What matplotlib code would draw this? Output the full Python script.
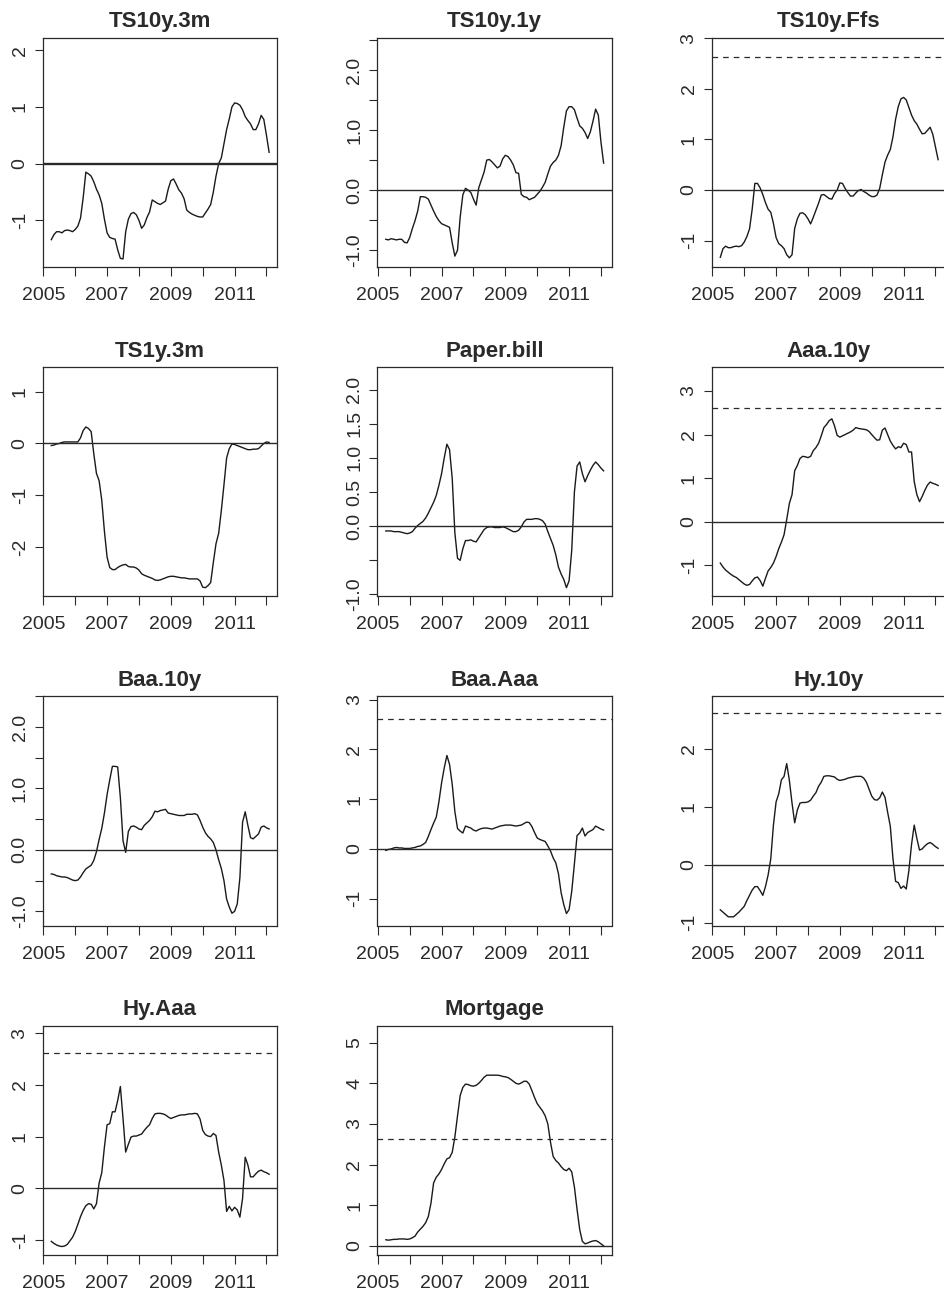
import numpy as np
import matplotlib
matplotlib.use("Agg")
import matplotlib.pyplot as plt

plt.rcParams['font.family'] = ['Liberation Sans', 'DejaVu Sans']
plt.rcParams['axes.unicode_minus'] = False

# ---------------- data ----------------
n_months = 83
start_year = 2005.25
time = start_year + np.arange(n_months) / 12.0

names = ["TS10y.3m", "TS10y.1y", "TS10y.Ffs", "TS1y.3m", "Paper.bill", "Aaa.10y",
         "Baa.10y", "Baa.Aaa", "Hy.10y", "Hy.Aaa", "Mortgage"]

ts10y_3m = [-1.34, -1.25, -1.2, -1.2, -1.22, -1.18, -1.17, -1.18, -1.2, -1.16,
            -1.1, -0.96, -0.6, -0.15, -0.18, -0.22, -0.32, -0.45, -0.55, -0.7,
            -0.98, -1.22, -1.3, -1.32, -1.33, -1.52, -1.67, -1.68, -1.2, -0.98,
            -0.88, -0.86, -0.9, -1.0, -1.14, -1.08, -0.95, -0.85, -0.64, -0.67,
            -0.7, -0.72, -0.69, -0.66, -0.45, -0.3, -0.27, -0.36, -0.46, -0.52,
            -0.62, -0.82, -0.86, -0.89, -0.91, -0.93, -0.94, -0.94, -0.87, -0.8,
            -0.72, -0.5, -0.22, 0.0, 0.1, 0.35, 0.6, 0.79, 1.0, 1.07,
            1.06, 1.03, 0.95, 0.83, 0.76, 0.7, 0.6, 0.6, 0.7, 0.85,
            0.78, 0.5, 0.2]

ts10y_1y = [-0.82, -0.83, -0.81, -0.82, -0.83, -0.82, -0.82, -0.87, -0.88, -0.79,
            -0.64, -0.51, -0.35, -0.11, -0.11, -0.12, -0.15, -0.25, -0.35, -0.44,
            -0.51, -0.56, -0.58, -0.6, -0.62, -0.88, -1.1, -1.0, -0.45, -0.08,
            0.03, 0.0, -0.04, -0.15, -0.25, 0.04, 0.17, 0.3, 0.5, 0.51,
            0.47, 0.42, 0.37, 0.4, 0.52, 0.58, 0.56, 0.5, 0.42, 0.29,
            0.28, -0.07, -0.11, -0.12, -0.16, -0.14, -0.12, -0.07, -0.02, 0.05,
            0.13, 0.27, 0.4, 0.46, 0.5, 0.58, 0.74, 1.05, 1.32, 1.39,
            1.39, 1.34, 1.2, 1.07, 1.03, 0.96, 0.86, 0.97, 1.15, 1.35,
            1.25, 0.8, 0.45]

ts10y_ffs = [-1.33, -1.16, -1.11, -1.14, -1.14, -1.12, -1.11, -1.12, -1.1, -1.03,
             -0.92, -0.77, -0.38, 0.13, 0.13, 0.04, -0.09, -0.25, -0.38, -0.44,
             -0.66, -0.94, -1.06, -1.1, -1.16, -1.28, -1.34, -1.28, -0.76, -0.57,
             -0.46, -0.45, -0.49, -0.57, -0.67, -0.54, -0.4, -0.26, -0.1, -0.09,
             -0.13, -0.17, -0.18, -0.07, 0.0, 0.14, 0.13, 0.03, -0.05, -0.12,
             -0.12, -0.06, -0.01, 0.01, -0.03, -0.06, -0.1, -0.13, -0.13, -0.1,
             0.03, 0.3, 0.55, 0.69, 0.8, 1.05, 1.4, 1.65, 1.8, 1.83,
             1.78, 1.63, 1.48, 1.37, 1.3, 1.2, 1.11, 1.12, 1.18, 1.24,
             1.1, 0.85, 0.6]

ts1y_3m = [-0.04, -0.03, -0.01, 0.0, 0.02, 0.03, 0.03, 0.03, 0.03, 0.03,
           0.03, 0.11, 0.25, 0.32, 0.29, 0.23, -0.2, -0.58, -0.72, -1.1,
           -1.7, -2.2, -2.4, -2.44, -2.44, -2.4, -2.37, -2.35, -2.34, -2.38,
           -2.39, -2.39, -2.41, -2.45, -2.52, -2.55, -2.57, -2.59, -2.61, -2.64,
           -2.65, -2.64, -2.62, -2.6, -2.58, -2.57, -2.57, -2.58, -2.59, -2.6,
           -2.6, -2.61, -2.62, -2.62, -2.62, -2.62, -2.66, -2.78, -2.79, -2.75,
           -2.69, -2.3, -1.94, -1.74, -1.3, -0.8, -0.28, -0.1, -0.01, -0.02,
           -0.04, -0.06, -0.08, -0.1, -0.12, -0.12, -0.11, -0.11, -0.1, -0.05,
           0.0, 0.03, 0.02]

paper_bill = [-0.07, -0.07, -0.07, -0.08, -0.08, -0.08, -0.09, -0.1, -0.11, -0.1,
              -0.08, -0.03, 0.01, 0.04, 0.07, 0.12, 0.19, 0.27, 0.35, 0.45,
              0.6, 0.77, 1.0, 1.2, 1.12, 0.7, -0.1, -0.47, -0.5, -0.33,
              -0.21, -0.21, -0.2, -0.22, -0.23, -0.17, -0.11, -0.05, -0.02, -0.01,
              -0.01, -0.02, -0.02, -0.02, -0.01, -0.02, -0.04, -0.06, -0.08, -0.08,
              -0.06, -0.01, 0.06, 0.1, 0.1, 0.1, 0.11, 0.11, 0.1, 0.08,
              0.03, -0.08, -0.18, -0.28, -0.42, -0.6, -0.7, -0.78, -0.9, -0.8,
              -0.35, 0.5, 0.88, 0.94, 0.77, 0.65, 0.74, 0.82, 0.89, 0.94,
              0.9, 0.85, 0.81]

aaa_10y = [-0.95, -1.04, -1.11, -1.16, -1.21, -1.25, -1.28, -1.33, -1.38, -1.43,
           -1.46, -1.44, -1.36, -1.29, -1.27, -1.35, -1.48, -1.3, -1.13, -1.05,
           -0.95, -0.8, -0.62, -0.47, -0.3, 0.05, 0.42, 0.62, 1.17, 1.29,
           1.45, 1.5, 1.49, 1.47, 1.5, 1.63, 1.7, 1.8, 1.97, 2.16,
           2.23, 2.32, 2.36, 2.2, 1.98, 1.94, 1.97, 2.0, 2.03, 2.06,
           2.1, 2.16, 2.14, 2.13, 2.12, 2.11, 2.07, 2.0, 1.93, 1.87,
           1.88, 2.1, 2.15, 2.0, 1.85, 1.75, 1.67, 1.72, 1.7, 1.8,
           1.77, 1.6, 1.6, 0.92, 0.62, 0.46, 0.58, 0.72, 0.84, 0.91,
           0.88, 0.86, 0.83]

baa_10y = [-0.39, -0.4, -0.42, -0.43, -0.44, -0.44, -0.45, -0.47, -0.49, -0.5,
           -0.49, -0.44, -0.37, -0.31, -0.28, -0.25, -0.17, -0.03, 0.17, 0.35,
           0.6, 0.9, 1.14, 1.36, 1.36, 1.35, 0.85, 0.15, -0.04, 0.3,
           0.38, 0.39, 0.37, 0.34, 0.33, 0.4, 0.44, 0.48, 0.54, 0.63,
           0.62, 0.64, 0.65, 0.66, 0.6, 0.59, 0.58, 0.57, 0.56, 0.56,
           0.56, 0.58, 0.58, 0.58, 0.59, 0.57, 0.48, 0.37, 0.28, 0.22,
           0.18, 0.12, 0.0, -0.16, -0.3, -0.5, -0.8, -0.93, -1.03, -1.0,
           -0.88, -0.45, 0.45, 0.62, 0.4, 0.2, 0.18, 0.22, 0.26, 0.37,
           0.39, 0.36, 0.34]

baa_aaa = [-0.03, -0.01, 0.0, 0.02, 0.03, 0.02, 0.02, 0.01, 0.01, 0.01,
           0.02, 0.03, 0.05, 0.06, 0.09, 0.13, 0.25, 0.39, 0.52, 0.64,
           0.95, 1.33, 1.63, 1.88, 1.7, 1.3, 0.75, 0.41, 0.36, 0.32,
           0.46, 0.44, 0.42, 0.38, 0.36, 0.39, 0.41, 0.42, 0.42, 0.41,
           0.4, 0.42, 0.44, 0.46, 0.47, 0.48, 0.48, 0.48, 0.47, 0.46,
           0.47, 0.48, 0.51, 0.54, 0.53, 0.45, 0.33, 0.22, 0.19, 0.17,
           0.15, 0.06, -0.04, -0.18, -0.28, -0.5, -0.88, -1.12, -1.3, -1.22,
           -0.85, -0.3, 0.27, 0.32, 0.42, 0.26, 0.33, 0.36, 0.39, 0.46,
           0.43, 0.4, 0.38]

hy_10y = [-0.78, -0.82, -0.86, -0.9, -0.9, -0.9, -0.86, -0.82, -0.77, -0.72,
          -0.62, -0.53, -0.44, -0.38, -0.38, -0.45, -0.53, -0.38, -0.18, 0.1,
          0.68, 1.08, 1.22, 1.46, 1.52, 1.74, 1.45, 1.06, 0.72, 0.94,
          1.06, 1.07, 1.07, 1.08, 1.11, 1.18, 1.24, 1.35, 1.42, 1.52,
          1.53, 1.53, 1.52, 1.51, 1.47, 1.45, 1.46, 1.47, 1.49, 1.5,
          1.51, 1.52, 1.52, 1.52, 1.49, 1.42, 1.3, 1.18, 1.12, 1.11,
          1.15, 1.25, 1.16, 0.9, 0.66, 0.1, -0.29, -0.31, -0.41, -0.37,
          -0.42, -0.1, 0.35, 0.68, 0.45, 0.25, 0.27, 0.32, 0.36, 0.38,
          0.35, 0.31, 0.28]

hy_aaa = [-1.03, -1.07, -1.1, -1.12, -1.13, -1.12, -1.09, -1.02, -0.95, -0.84,
          -0.7, -0.55, -0.43, -0.34, -0.3, -0.31, -0.4, -0.3, 0.1, 0.3,
          0.8, 1.23, 1.25, 1.48, 1.48, 1.7, 1.97, 1.35, 0.7, 0.85,
          0.99, 1.01, 1.01, 1.03, 1.05, 1.12, 1.18, 1.23, 1.35, 1.44,
          1.45, 1.45, 1.44, 1.42, 1.38, 1.35, 1.37, 1.39, 1.41, 1.42,
          1.42, 1.43, 1.44, 1.44, 1.45, 1.44, 1.34, 1.12, 1.04, 1.01,
          1.0, 1.06, 1.02, 0.7, 0.45, 0.15, -0.45, -0.35, -0.44, -0.37,
          -0.42, -0.56, -0.2, 0.6, 0.45, 0.22, 0.22, 0.28, 0.33, 0.35,
          0.32, 0.3, 0.27]

mortgage = [0.15, 0.14, 0.15, 0.16, 0.16, 0.17, 0.17, 0.17, 0.16, 0.17,
            0.2, 0.24, 0.34, 0.41, 0.48, 0.57, 0.72, 1.05, 1.55, 1.69,
            1.77, 1.88, 2.02, 2.14, 2.17, 2.3, 2.68, 3.2, 3.7, 3.9,
            3.98, 3.97, 3.94, 3.93, 3.95, 4.0, 4.07, 4.15, 4.2, 4.2,
            4.2, 4.2, 4.2, 4.19, 4.17, 4.16, 4.14, 4.1, 4.05, 4.0,
            3.98, 4.01, 4.05, 4.05, 3.98, 3.82, 3.65, 3.5, 3.41, 3.32,
            3.2, 3.0, 2.55, 2.2, 2.1, 2.04, 1.95, 1.88, 1.85, 1.91,
            1.82, 1.45, 0.9, 0.4, 0.11, 0.05, 0.07, 0.1, 0.12, 0.13,
            0.1, 0.05, 0.0]

series = [ts10y_3m, ts10y_1y, ts10y_ffs, ts1y_3m, paper_bill, aaa_10y,
          baa_10y, baa_aaa, hy_10y, hy_aaa, mortgage]

threshold = 2.62
x_ticks = [2005, 2006, 2007, 2008, 2009, 2010, 2011, 2012]
x_labels = ["2005", "", "2007", "", "2009", "", "2011", ""]

half = [-1.0, -0.5, 0.0, 0.5, 1.0, 1.5, 2.0, 2.5]
half_lab = ["-1.0", "", "0.0", "", "1.0", "", "2.0", ""]
y_ticks = [[-1, 0, 1, 2], half, [-1, 0, 1, 2, 3], [-2, -1, 0, 1],
           [-1.0, -0.5, 0.0, 0.5, 1.0, 1.5, 2.0], [-1, 0, 1, 2, 3],
           half, [-1, 0, 1, 2, 3], [-1, 0, 1, 2], [-1, 0, 1, 2, 3],
           [0, 1, 2, 3, 4, 5]]
y_labels = [["-1", "0", "1", "2"], half_lab, ["-1", "0", "1", "2", "3"],
            ["-2", "-1", "0", "1"],
            ["-1.0", "", "0.0", "0.5", "1.0", "1.5", "2.0"],
            ["-1", "0", "1", "2", "3"], half_lab, ["-1", "0", "1", "2", "3"],
            ["-1", "0", "1", "2"], ["-1", "0", "1", "2", "3"],
            ["0", "1", "2", "3", "4", "5"]]
y_limits = [(-1.82, 2.22), (-1.28, 2.54), (-1.52, 3.01), (-2.955, 1.48),
            (-1.025, 2.33), (-1.71, 3.55), (-1.23, 2.50), (-1.54, 3.07),
            (-1.05, 2.90), (-1.29, 3.15), (-0.22, 5.42)]

# ---------------- layout ----------------
W, H = 945, 1295
fig = plt.figure(figsize=(W / 100, H / 100), dpi=100)
fig.patch.set_facecolor("white")

ink = "#2a2a2a"
pw, ph = 234.6, 229.2
for k, (name, vals) in enumerate(zip(names, series)):
    r, c = divmod(k, 3)
    left = 42.7 + 334.5 * c
    top = 37.7 + 329.3 * r
    ax = fig.add_axes([left / W, 1 - (top + ph) / H, pw / W, ph / H])
    ax.plot(time, vals, color="#1a1a1a", lw=1.0, solid_joinstyle="round")
    ax.axhline(0, color=ink, lw=1.7 if k == 0 else 1.0)
    ax.axhline(threshold, color=ink, lw=0.9, dashes=(4.5, 4.0))
    ax.set_xlim(2004.98, 2012.34)
    ax.set_ylim(*y_limits[k])
    ax.set_xticks(x_ticks, x_labels, fontsize=14, color=ink)
    ax.set_yticks(y_ticks[k], y_labels[k], fontsize=14, color=ink,
                  rotation=90, va="center")
    ax.tick_params(axis="x", direction="out", length=6.8, width=0.8,
                   color=ink, pad=7.8)
    ax.tick_params(axis="y", direction="out", length=5.6, width=0.8,
                   color=ink, pad=4.5)
    for s in ax.spines.values():
        s.set_color(ink)
        s.set_linewidth(0.9)
    ax.set_title(name, fontsize=16, fontweight="bold", color=ink, pad=7.5)

fig.savefig("out.png", dpi=100, facecolor="white")
